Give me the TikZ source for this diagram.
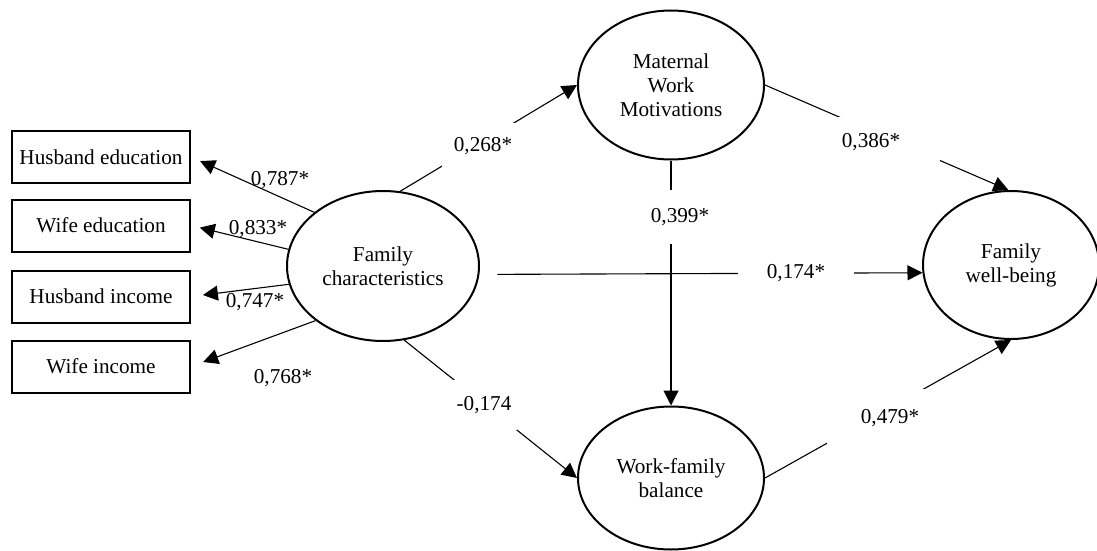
\documentclass[tikz,border=0pt]{standalone}
\usepackage{fontspec}
\setmainfont{Liberation Serif}
\usetikzlibrary{arrows.meta,shapes.geometric}

\begin{document}
\begin{tikzpicture}[
  x=0.5pt, y=-0.5pt,
  font=\fontsize{10.6}{12}\selectfont,
  box/.style={draw,line width=1pt,minimum width=89pt,minimum height=26pt,inner sep=0pt},
  latent/.style={draw,ellipse,line width=1pt,inner sep=0pt,align=center},
  link/.style={line width=0.55pt,-{Triangle[length=7.5pt,width=7.5pt]}},
  coef/.style={inner sep=1pt},
  cut/.style={fill=white}
]
  \useasboundingbox (0,0) rectangle (1097,551);

  \node[box] (he) at (101,157) {Husband education};
  \node[box] (we) at (101,225.5) {Wife education};
  \node[box] (hi) at (101,296.5) {Husband income};
  \node[box] (wi) at (101,366.5) {Wife income};

  \node[latent,minimum width=96pt,minimum height=75pt] (fc) at (383,266) {Family\\characteristics};
  \node[latent,minimum width=93pt,minimum height=74.5pt] (mw) at (671,85) {Maternal\\Work\\Motivations};
  \node[latent,minimum width=93pt,minimum height=71.5pt] (wf) at (671,478) {Work-family\\balance};
  \node[latent,minimum width=88pt,minimum height=74pt] (fw) at (1011,265) {Family\\well-being};

  \draw[link,shorten >=5pt] (fc.142) -- (he.east);
  \draw[link,shorten >=4.5pt] (fc.170) -- (we.east);
  \draw[link,shorten >=6pt] (fc.191) -- (hi.east);
  \draw[link,shorten >=6.5pt] (fc.219) -- (wi.east);

  \draw[link] (fc.77) -- (mw.west);
  \draw[link,shorten <=9pt] (fc.-5) -- (fw.185);
  \draw[link] (fc.-74) -- (wf.west);
  \draw[link] (mw.south) -- (wf.north);
  \draw[link] (mw.east) -- (fw.92);
  \draw[link] (wf.east) -- (fw.south);

  \node[coef] (c787) at (280,180) {0,787*};
  \node[coef] (c833) at (258,229) {0,833*};
  \node[coef] (c747) at (255,302) {0,747*};
  \node[coef] (c768) at (283,378) {0,768*};
  \node[cut,inner xsep=6pt,inner ysep=7pt] (c268) at (483,146) {0,268*};
  \node[cut,inner ysep=9pt] (c399) at (680,217) {0,399*};
  \node[cut,inner xsep=14.5pt] (c174) at (796,273) {0,174*};
  \node[cut,inner xsep=20pt,inner ysep=8pt] (c386) at (871,142) {0,386*};
  \node[cut,inner xsep=3pt,inner ysep=8pt] (cneg) at (484,405) {-0,174};
  \node[cut,inner xsep=17pt,inner ysep=10pt] (c479) at (890,418) {0,479*};
\end{tikzpicture}
\end{document}
